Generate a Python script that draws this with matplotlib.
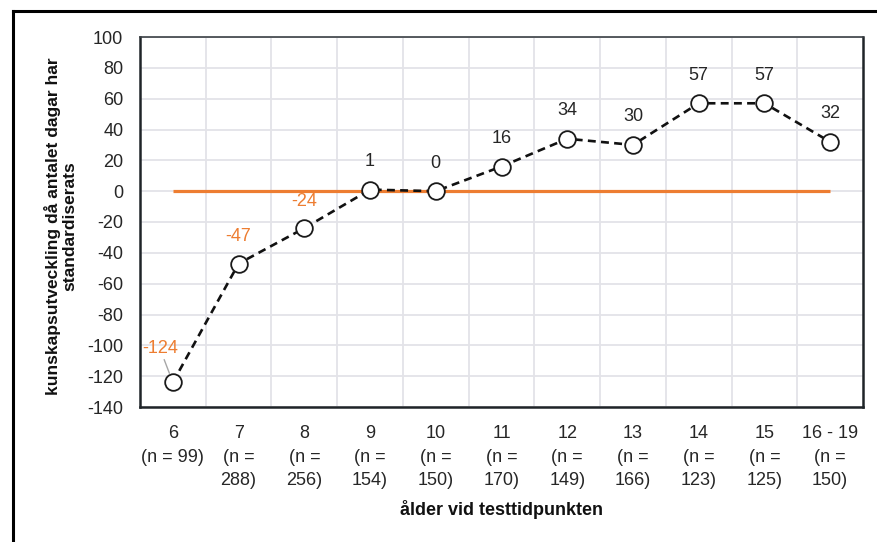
import matplotlib
matplotlib.use("Agg")
import matplotlib.pyplot as plt
from matplotlib.lines import Line2D

# ---- data ----
ages = ["6", "7", "8", "9", "10", "11", "12", "13", "14", "15", "16 - 19"]
n_values = [99, 288, 256, 154, 150, 170, 149, 166, 123, 125, 150]
values = [-124, -47, -24, 1, 0, 16, 34, 30, 57, 57, 32]
reference = [0] * len(ages)
y_ticks = list(range(-140, 101, 20))

plt.rcParams['font.family'] = ['Liberation Sans', 'DejaVu Sans']

W, H = 877, 542
fig = plt.figure(figsize=(W / 100, H / 100), dpi=100)
ax = fig.add_axes([140 / W, 1 - 407 / H, (863 - 140) / W, (407 - 37) / H])

x = list(range(len(ages)))
orange = '#ED7D31'
txt = '#262626'
fs = 13

# reference line
ax.plot(x, reference, color=orange, lw=2.3, zorder=2, solid_capstyle='butt')
# main series
ax.plot(x, values, color='#111111', lw=1.9, ls=(0, (3, 2)), zorder=3,
        marker='o', markersize=12, markerfacecolor='white',
        markeredgecolor='#1a1a1a', markeredgewidth=1.3)

# data labels
for xi, v in zip(x, values):
    if xi == 0:
        ax.annotate(str(v), xy=(xi, v), xytext=(-13, 34), textcoords='offset pixels',
                    ha='center', va='center', fontsize=fs, color=orange, zorder=5,
                    arrowprops=dict(arrowstyle='-', color='#a6a6a6', lw=1,
                                    shrinkA=0, shrinkB=7))
    elif v < 0:
        ax.annotate(str(v), xy=(xi, v), xytext=(0, 27), textcoords='offset pixels',
                    ha='center', va='center', fontsize=fs, color=orange, zorder=5)
    else:
        ax.annotate(str(v), xy=(xi, v), xytext=(0, 28), textcoords='offset pixels',
                    ha='center', va='center', fontsize=fs, color=txt, zorder=5)

# axes
ax.set_xlim(-0.5, len(ages) - 0.5)
ax.set_ylim(-140, 100)
ax.set_yticks(y_ticks)
ax.set_yticklabels([str(t) for t in y_ticks])

labels = []
for a, n in zip(ages, n_values):
    if a == "6":
        labels.append(f"{a}\n(n = {n})")
    else:
        labels.append(f"{a}\n(n =\n{n})")
ax.set_xticks(x)
ax.set_xticklabels(labels, va='top', linespacing=1.5)
ax.set_xticks([i + 0.5 for i in x[:-1]], minor=True)

ax.tick_params(axis='both', which='both', length=0, labelsize=fs, colors=txt)
ax.tick_params(axis='x', pad=13)
ax.tick_params(axis='y', pad=12)

ax.grid(axis='y', which='major', color='#e3e3e8', lw=1.3, zorder=0)
ax.grid(axis='x', which='minor', color='#e3e3e8', lw=1.3, zorder=0)
ax.grid(axis='x', which='major', visible=False)
ax.set_axisbelow(True)

for side in ['left', 'bottom', 'right']:
    ax.spines[side].set_color('#1f2428')
    ax.spines[side].set_linewidth(1.8)
ax.spines['top'].set_color('#3a3f44')
ax.spines['top'].set_linewidth(1.2)

ax.set_ylabel("kunskapsutveckling då antalet dagar har\nstandardiserats",
              fontsize=12.5, fontweight='bold', color='#111111',
              linespacing=1.1)
ax.yaxis.set_label_coords(-0.087, 0.49)
ax.set_xlabel("ålder vid testtidpunkten", fontsize=13, fontweight='bold',
              color='#111111', labelpad=8)

# outer frame (top and left only visible)
fig.add_artist(Line2D([12.5 / W, 12.5 / W], [0, 1 - 10.5 / H], transform=fig.transFigure,
                      color='black', lw=2.2))
fig.add_artist(Line2D([12.5 / W, 1], [1 - 10.5 / H, 1 - 10.5 / H], transform=fig.transFigure,
                      color='black', lw=2.2))

fig.savefig("out.png", dpi=100)
